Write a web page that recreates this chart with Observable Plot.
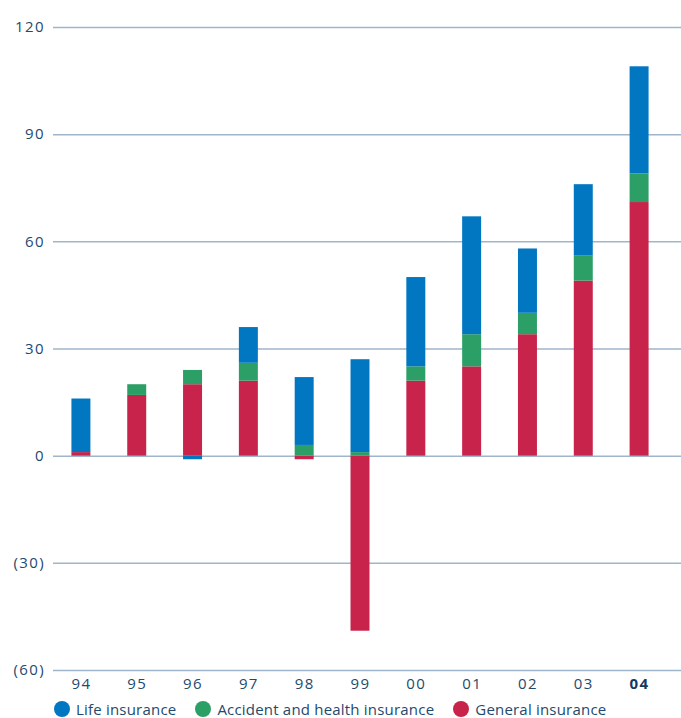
<!DOCTYPE html>
<html>
<head>
<meta charset="utf-8">
<script src="https://cdn.jsdelivr.net/npm/d3@7"></script>
<script src="https://cdn.jsdelivr.net/npm/@observablehq/plot@0.6"></script>
<style>
  html, body { margin: 0; padding: 0; background: #fff; }
  #chart svg { display: block; }
  .legend { display: flex; align-items: center; height: 16px; margin-left: 54px;
    font-family: "Open Sans", sans-serif; font-size: 15px; line-height: 16px; color: #1e4a6d; letter-spacing: 0.2px; }
  .legend .item { display: flex; align-items: center; margin-right: 19px; }
  .legend .dot { width: 16px; height: 16px; border-radius: 50%; margin-right: 6px; }
</style>
</head>
<body>
<div id="chart"></div>
<div class="legend" id="legend"></div>
<script>
const years = ["94","95","96","97","98","99","00","01","02","03","04"];
const seriesNames = ["Life insurance", "Accident and health insurance", "General insurance"];
const seriesColors = ["#0077c0", "#2c9f66", "#c8234a"];
const general = [1, 17, 20, 21, -1, -49, 21, 25, 34, 49, 71];
const accidentHealth = [0, 3, 4, 5, 3, 1, 4, 9, 6, 7, 8];
const life = [15, 0, -1, 10, 19, 26, 25, 33, 18, 20, 30];
const yTicks = [-60, -30, 0, 30, 60, 90, 120];

// stacking order: general at bottom, then accident & health, then life
const data = [];
years.forEach((yr, i) => {
  data.push({year: yr, series: seriesNames[2], value: general[i]});
  data.push({year: yr, series: seriesNames[1], value: accidentHealth[i]});
  data.push({year: yr, series: seriesNames[0], value: life[i]});
});

const textColor = "#1e4a6d";
const chart = Plot.plot({
  width: 681,
  height: 701,
  marginLeft: 53,
  marginRight: 0,
  marginTop: 27,
  marginBottom: 31,
  style: {fontFamily: "'Open Sans', sans-serif", fontSize: "15px", color: textColor, letterSpacing: "1.4px", background: "#fff"},
  x: {domain: years, paddingInner: 0.66, paddingOuter: 0.33, insetRight: 14, round: false, axis: null},
  y: {domain: [-60, 120], axis: null},
  color: {domain: seriesNames, range: seriesColors},
  marks: [
    Plot.ruleY(yTicks, {stroke: "#9fb5cb", strokeWidth: 1.5}),
    Plot.barY(data, {x: "year", y: "value", fill: "series", order: null}),
    Plot.axisY({ticks: yTicks, tickSize: 0, tickPadding: 8.5, fill: textColor, label: null,
      tickFormat: d => d < 0 ? `(${-d})` : `${d}`}),
    Plot.axisX({ticks: years.filter(y => y !== "04"), tickSize: 0, tickPadding: 8, fill: textColor, label: null}),
    Plot.axisX({ticks: ["04"], tickSize: 0, tickPadding: 8, fill: "#12395e", fontWeight: "bold", label: null})
  ]
});
document.getElementById("chart").appendChild(chart);

const legend = document.getElementById("legend");
seriesNames.forEach((name, i) => {
  const item = document.createElement("div");
  item.className = "item";
  const dot = document.createElement("span");
  dot.className = "dot";
  dot.style.background = seriesColors[i];
  const label = document.createElement("span");
  label.textContent = name;
  item.appendChild(dot);
  item.appendChild(label);
  legend.appendChild(item);
});
</script>
</body>
</html>
